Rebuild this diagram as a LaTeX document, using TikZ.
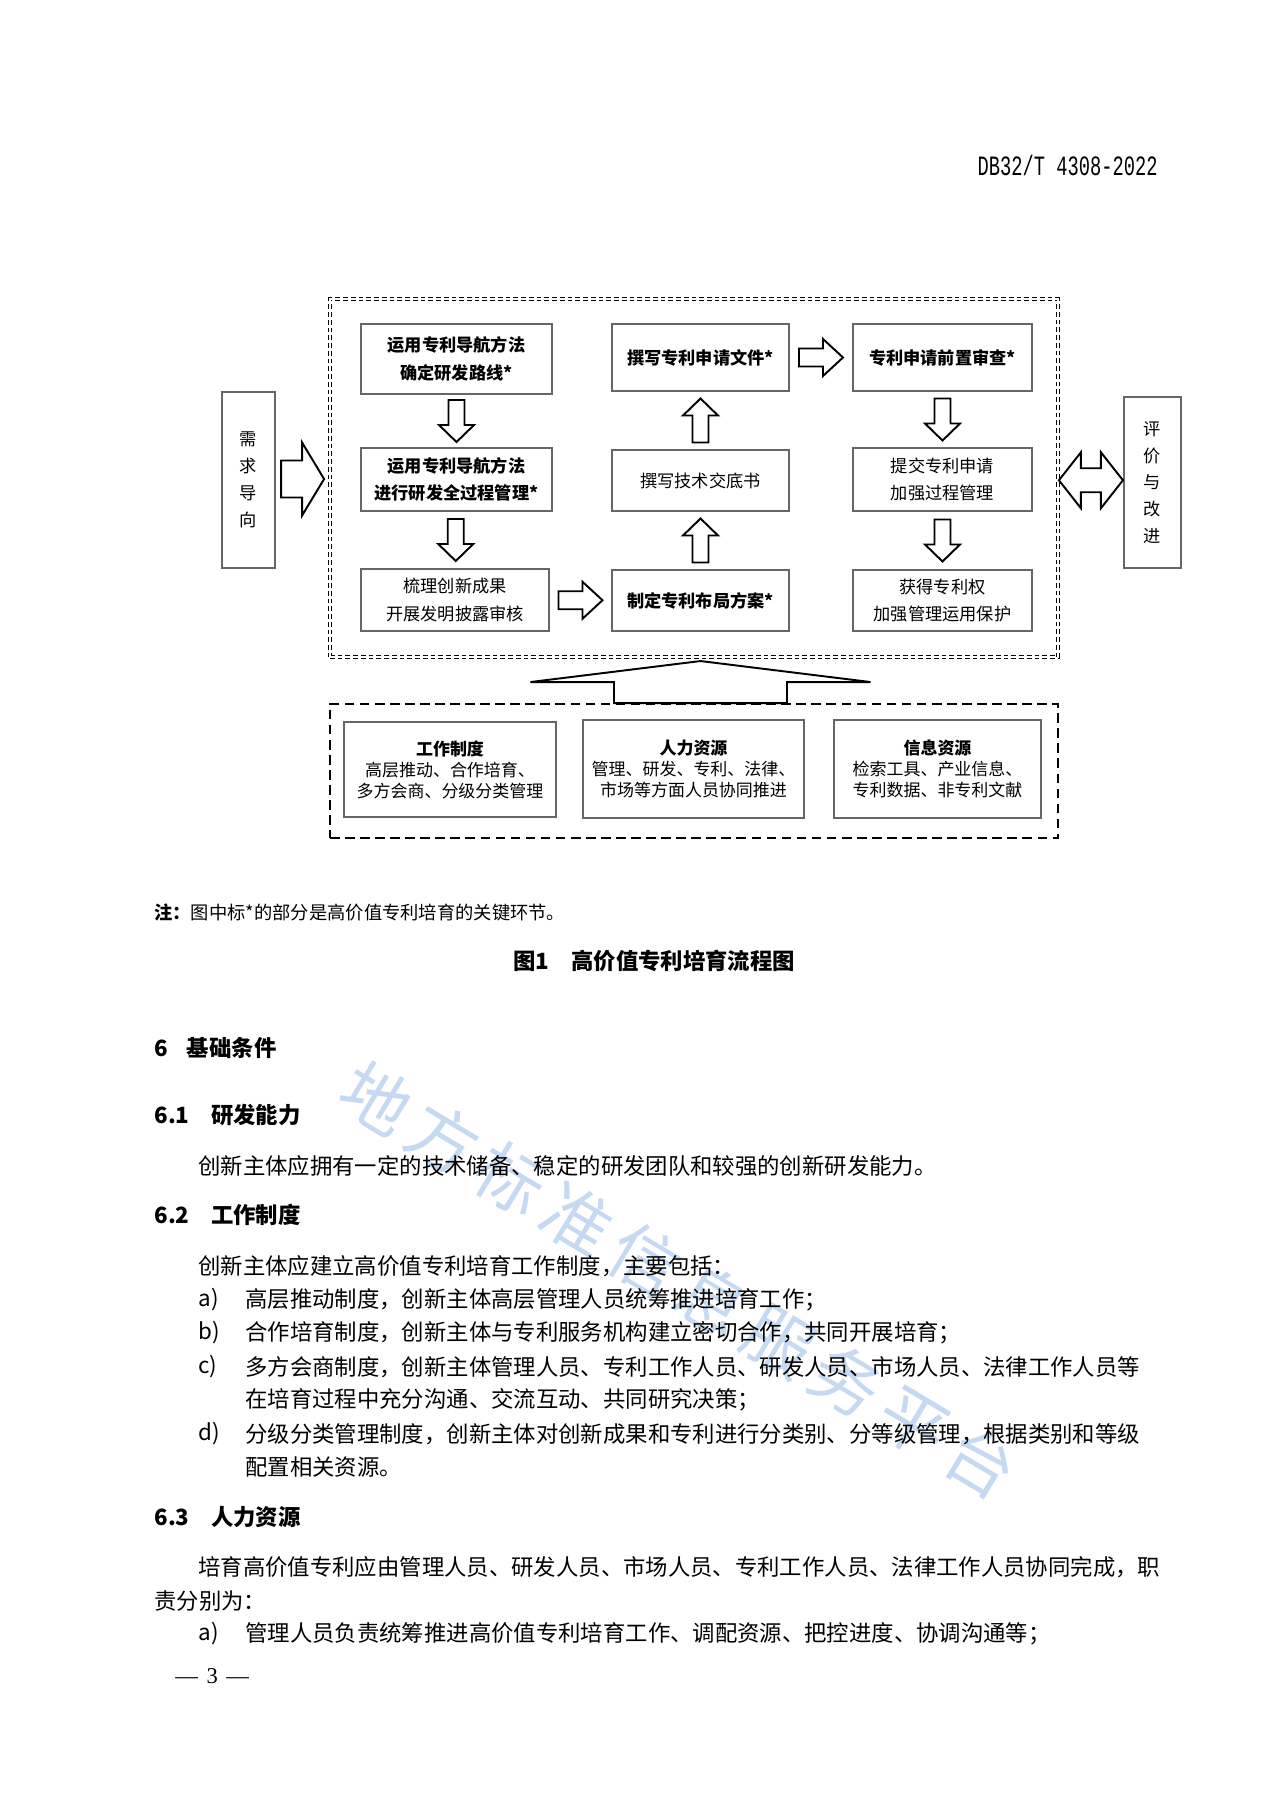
\documentclass[tikz,border=0pt]{standalone}
\usepackage{fontspec}
\setmainfont{Noto Sans CJK SC}
\newfontfamily\hdfont{Liberation Mono}
\newfontfamily\pgfont{Liberation Serif}
\usetikzlibrary{calc}
\usetikzlibrary{positioning}
\XeTeXlinebreaklocale "zh"
\XeTeXlinebreakskip=0pt plus 1pt
\newlength\px \setlength\px{0.465pt}
\definecolor{wm}{RGB}{197,218,242}

\tikzstyle{blk}     = [draw=black!60, line width=0.6pt, inner sep=0pt, align=center, font=\fontsize{8}{12.9}\selectfont]
\tikzstyle{key}     = [blk, font=\bfseries\fontsize{8}{12.9}\selectfont]
\tikzstyle{side}    = [blk, font=\fontsize{8}{12.5}\selectfont]
\tikzstyle{res}     = [blk, font=\fontsize{7.9}{9.7}\selectfont]
\tikzstyle{flowbox} = [draw, double, double distance=1.2pt, line width=0.45pt, dash pattern=on 2.2pt off 1.4pt, inner sep=0pt]
\tikzstyle{basebox} = [draw, line width=0.9pt, dash pattern=on 4.5pt off 2.5pt, inner sep=0pt]
\tikzstyle{fat}     = [draw=black, line width=0.9pt, fill=white, line join=miter]
\tikzstyle{body}    = [anchor=west, inner sep=0pt, font=\fontsize{10.4}{10.4}\selectfont]
\tikzstyle{head}    = [body, font=\bfseries\fontsize{10.4}{10.4}\selectfont]

\tikzset{
  pics/fatarr/.style n args={4}{code={
    \draw[fat] (-#1/2,-#2) -- (#1/2-#4,-#2) -- (#1/2-#4,-#3) -- (#1/2,0)
      -- (#1/2-#4,#3) -- (#1/2-#4,#2) -- (-#1/2,#2) -- cycle;}},
  pics/dblarr/.style n args={4}{code={
    \draw[fat] (-#1/2,0) -- (-#1/2+#4,-#3) -- (-#1/2+#4,-#2) -- (#1/2-#4,-#2)
      -- (#1/2-#4,-#3) -- (#1/2,0) -- (#1/2-#4,#3) -- (#1/2-#4,#2)
      -- (-#1/2+#4,#2) -- (-#1/2+#4,#3) -- cycle;}}
}

\begin{document}
\begin{tikzpicture}[x=\px, y=-\px]
  \useasboundingbox (0,0) rectangle (1280,1810);
  \fill[white] (0,0) rectangle (1280,1810);

  % watermark
  \node[rotate=-31, text=wm, inner sep=0pt, font=\fontsize{32}{32}\selectfont] (wmark) at (679,1280)
    {\addfontfeature{LetterSpace=14}地方标准信息服务平台};

  \node[anchor=east, inner sep=0pt] (hdr) at (1158,166)
    {\hdfont\fontsize{13}{13}\selectfont\scalebox{0.67}[1]{DB32/T 4308-2022}};

  % flow part
  \node[flowbox, minimum width=728\px, minimum height=358\px] (flow) at (694,478) {};
  \node[key, minimum width=191\px, minimum height=70\px] (r1) at (456.5,359) {运用专利导航方法\\确定研发路线*};
  \node[key, minimum width=191\px, minimum height=63\px] (r2) at (456.5,479.5) {运用专利导航方法\\进行研发全过程管理*};
  \node[blk, minimum width=188\px, minimum height=62\px] (r3) at (455,600) {梳理创新成果\\开展发明披露审核};
  \node[key, minimum width=177\px, minimum height=67\px] (c1) at (700.5,357.5) {撰写专利申请文件*};
  \node[blk, minimum width=177\px, minimum height=61\px] (c2) at (700.5,480.5) {撰写技术交底书};
  \node[key, minimum width=177\px, minimum height=61\px] (c3) at (700.5,600.5) {制定专利布局方案*};
  \node[key, minimum width=179\px, minimum height=67\px] (d1) at (942.5,357.5) {专利申请前置审查*};
  \node[blk, minimum width=179\px, minimum height=63\px] (d2) at (942.5,479.5) {提交专利申请\\加强过程管理};
  \node[blk, minimum width=179\px, minimum height=61\px] (d3) at (942.5,600.5) {获得专利权\\加强管理运用保护};

  \node[side, minimum width=53\px, minimum height=176\px] (need) at (248.5,480) {需\\求\\导\\向};
  \node[side, minimum width=57\px, minimum height=171\px] (eval) at (1152.5,482.5) {评\\价\\与\\改\\进};

  \pic[rotate=-90] at ($(r1.south)!0.5!(r2.north)$) {fatarr={42}{8}{17.5}{17}};
  \pic[rotate=-90] at ($(r2.south)!0.5!(r3.north)$) {fatarr={42}{8}{17.5}{17}};
  \pic[rotate=90]  at ($(c3.north)!0.5!(c2.south)$) {fatarr={44}{8}{17.5}{17}};
  \pic[rotate=90]  at ($(c2.north)!0.5!(c1.south)$) {fatarr={44}{8}{17.5}{17}};
  \pic[rotate=-90] at ($(d1.south)!0.5!(d2.north)$) {fatarr={42}{8}{17.5}{17}};
  \pic[rotate=-90] at ($(d2.south)!0.5!(d3.north)$) {fatarr={42}{8}{17.5}{17}};
  \pic at ($(r3.east)!0.5!(c3.west)$) {fatarr={44}{9}{18.5}{20}};
  \pic at ($(c1.east)!0.5!(d1.west)$) {fatarr={44}{9}{18.5}{20}};
  \pic at ($(need.east)!0.5!(flow.west)$) {fatarr={43}{18.5}{36.5}{22}};
  \pic at ($(flow.east)!0.5!(eval.west)$) {dblarr={64}{12}{28}{22}};

  % resources
  \node[basebox, minimum width=728\px, minimum height=134\px] (base) at (694,771) {};
  \pic[rotate=90] at ($(c3.south |- base.north)+(0,-21)$) {fatarr={42}{86.5}{170}{21}};
  \node[res, minimum width=212\px, minimum height=95\px] (b1) at (450,769.5)
    {\textbf{工作制度}\\高层推动、合作培育、\\多方会商、分级分类管理};
  \node[res, minimum width=221\px, minimum height=98\px] (b2) at (693.5,769)
    {\textbf{人力资源}\\管理、研发、专利、法律、\\市场等方面人员协同推进};
  \node[res, minimum width=207\px, minimum height=98\px] (b3) at (937.5,769)
    {\textbf{信息资源}\\检索工具、产业信息、\\专利数据、非专利文献};

  % text of the page
  \node[body, font=\fontsize{8.5}{8.5}\selectfont] (note) at (154,912) {\textbf{注：}图中标*的部分是高价值专利培育的关键环节。};
  \node[head, anchor=center] (cap) at (654,961) {图1\hspace{1em}高价值专利培育流程图};
  \node[head] (s6) at (154,1048) {6\hspace{8.8pt}基础条件};
  \node[head] (s61) at (154,1115) {6.1\hspace{10pt}研发能力};
  \node[body] (p61) at (198,1166) {创新主体应拥有一定的技术储备、稳定的研发团队和较强的创新研发能力。};
  \node[head] (s62) at (154,1215) {6.2\hspace{10pt}工作制度};
  \node[body] (p62) at (198,1266) {创新主体应建立高价值专利培育工作制度，主要包括：};
  \node[body] (la) at (198,1300) {a)};
  \node[body] (ta) at (245,1300) {高层推动制度，创新主体高层管理人员统筹推进培育工作；};
  \node[body] (lb) at (198,1333) {b)};
  \node[body] (tb) at (245,1333) {合作培育制度，创新主体与专利服务机构建立密切合作，共同开展培育；};
  \node[body] (lc) at (198,1367) {c)};
  \node[body] (tc) at (245,1367) {\makebox[424.5pt][s]{多方会商制度，创新主体管理人员、专利工作人员、研发人员、市场人员、法律工作人员等}};
  \node[body] (tc2) at (245,1400) {在培育过程中充分沟通、交流互动、共同研究决策；};
  \node[body] (ld) at (198,1434) {d)};
  \node[body] (td) at (245,1434) {\makebox[424.5pt][s]{分级分类管理制度，创新主体对创新成果和专利进行分类别、分等级管理，根据类别和等级}};
  \node[body] (td2) at (245,1467) {配置相关资源。};
  \node[head] (s63) at (154,1517) {6.3\hspace{10pt}人力资源};
  \node[body] (p63) at (198,1567) {\makebox[446.4pt][s]{培育高价值专利应由管理人员、研发人员、市场人员、专利工作人员、法律工作人员协同完成，职}};
  \node[body] (p63b) at (154,1601) {责分别为：};
  \node[body] (la3) at (198,1634) {a)};
  \node[body] (ta3) at (245,1634) {管理人员负责统筹推进高价值专利培育工作、调配资源、把控进度、协调沟通等；};
  \node[body] (pg) at (175,1676) {\pgfont\fontsize{10.5}{10.5}\selectfont —\hspace{4pt}3\hspace{4pt}—};
\end{tikzpicture}
\end{document}
